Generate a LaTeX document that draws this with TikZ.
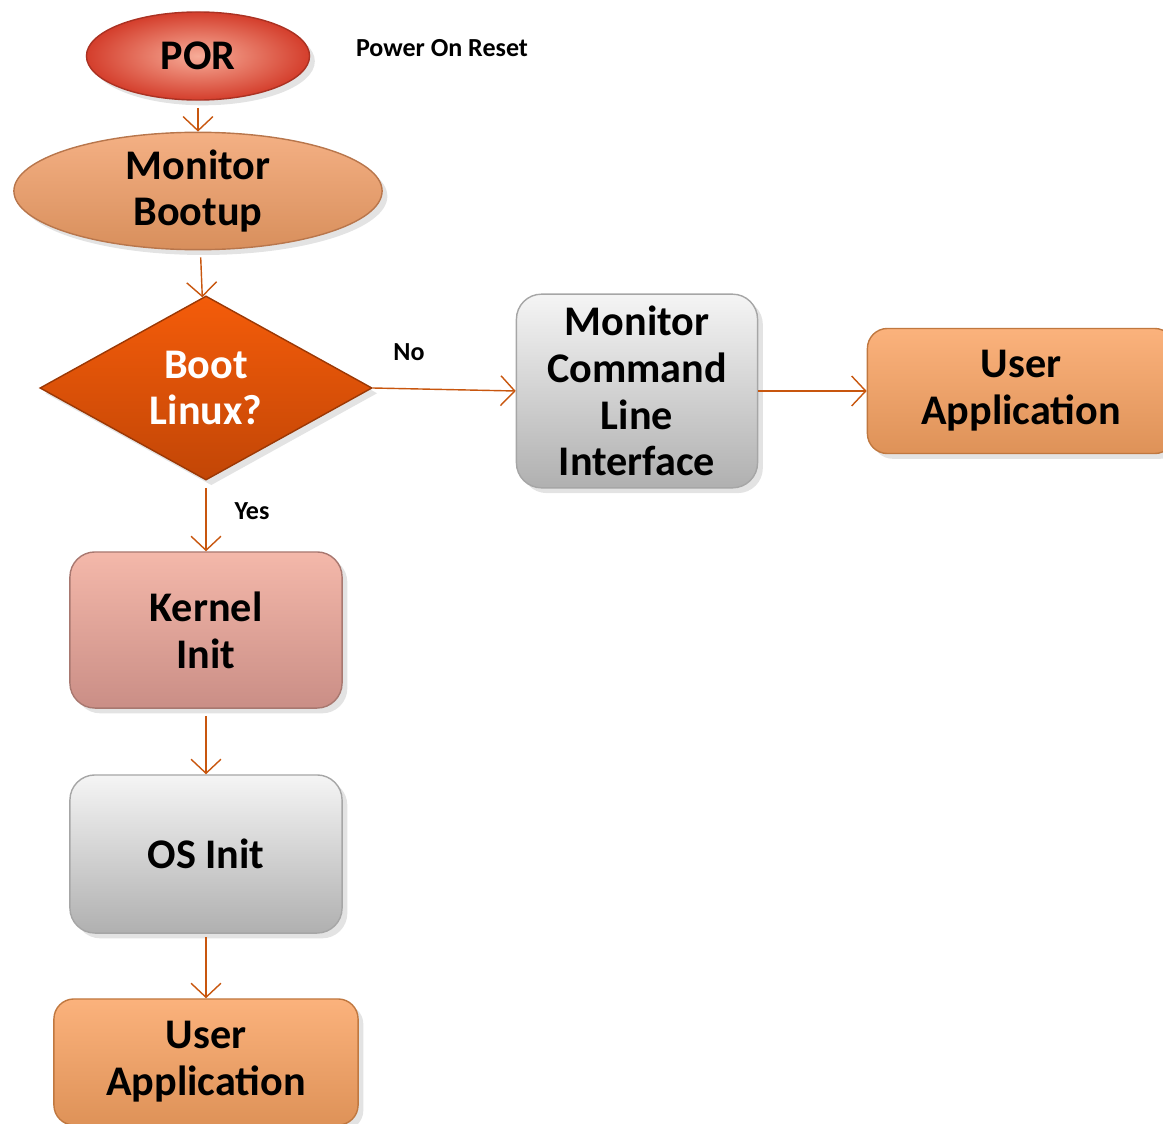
\documentclass[tikz,border=0pt]{standalone}
\usepackage{fontspec}
\setmainfont{Carlito}
\usepackage{tikz}
\usetikzlibrary{positioning}
\usetikzlibrary{shapes.geometric}
\usetikzlibrary{arrows.meta}
\usetikzlibrary{shadows}
\usepackage{xcolor}

\definecolor{porlight}{HTML}{F7AC98}
\definecolor{porred}{HTML}{D43E2C}
\definecolor{boottop}{HTML}{F4B084}
\definecolor{bootbot}{HTML}{D88F5C}
\definecolor{boottrim}{HTML}{B8764C}
\definecolor{dectop}{HTML}{F45C0A}
\definecolor{decbot}{HTML}{C24606}
\definecolor{kerntop}{HTML}{F4B8AA}
\definecolor{kernbot}{HTML}{CA8E86}
\definecolor{kerntrim}{HTML}{A87870}
\definecolor{apptop}{HTML}{FBB27C}
\definecolor{appbot}{HTML}{DE9258}
\definecolor{apptrim}{HTML}{C07840}
\definecolor{flowline}{HTML}{C8560E}

\begin{document}
\begin{tikzpicture}[x=0.01cm, y=-0.01cm,
  bigtext/.style={font=\bfseries\fontsize{12}{13.3}\selectfont, align=center},
  smalltext/.style={font=\bfseries\fontsize{7.4}{8}\selectfont},
  softshadow/.style={drop shadow={shadow xshift=1.5pt, shadow yshift=-1.5pt, opacity=0.22}},
  flow/.style={draw=flowline, line width=0.4pt, -{Straight Barb[length=4pt, width=8.5pt]}},
  glass/.style={rounded corners=0.25cm, draw=gray!70, top color=gray!8, middle color=gray!18, bottom color=gray!62, softshadow},
  appbox/.style={rounded corners=0.2cm, draw=apptrim, top color=apptop, bottom color=appbot, softshadow, bigtext}
]

\useasboundingbox (0,0) rectangle (1163,1124);

% left column
\node[ellipse, draw=porred!80!black, shading=radial, inner color=porlight, outer color=porred,
      minimum width=2.23cm, minimum height=0.88cm, inner sep=0pt, softshadow, bigtext] (por) at (198,56) {POR};

\node[smalltext] (porlabel) at (442,48) {Power On Reset};

\node[ellipse, draw=boottrim, top color=boottop, bottom color=bootbot,
      minimum width=3.68cm, minimum height=1.08cm, inner sep=0pt, softshadow, bigtext] (boot) at (198,191) {Monitor\\Bootup};

\node[diamond, aspect=1.8, draw=decbot!80!black, top color=dectop, bottom color=decbot,
      minimum width=3.32cm, minimum height=1.84cm, inner sep=0pt, softshadow, bigtext, text=white] (bootq) at (206,388) {Boot\\Linux?};

\node[glass, minimum width=2.41cm, minimum height=1.91cm, bigtext] (mcli) at (637,391) {Monitor\\Command\\Line\\Interface};

\node[appbox, minimum width=3.07cm, minimum height=1.25cm] (appright) at (1021,391) {User\\Application};

\node[rounded corners=0.25cm, draw=kerntrim, top color=kerntop, bottom color=kernbot,
      minimum width=2.72cm, minimum height=1.56cm, softshadow, bigtext] (kernel) at (206,630) {Kernel\\Init};

\node[glass, minimum width=2.72cm, minimum height=1.58cm, bigtext] (osinit) at (206,854) {OS Init};

\node[appbox, minimum width=3.04cm, minimum height=1.26cm] (appbottom) at (206,1062) {User\\Application};

% connectors
\draw[flow, shorten <=2pt] (por) -- (boot);
\draw[flow, shorten <=2pt] (boot) -- (bootq);
\draw[flow] (bootq.east) -- (mcli.west);
\draw[flow] (mcli.east) -- (appright.west);
\draw[flow, shorten <=2pt] (bootq.south) -- (kernel.north);
\draw[flow, shorten <=2pt] (kernel) -- (osinit);
\draw[flow, shorten <=1pt] (osinit) -- (appbottom);

\node[smalltext] (nolabel) at (409,352) {No};
\node[smalltext] (yeslabel) at (252,511) {Yes};

\end{tikzpicture}
\end{document}
